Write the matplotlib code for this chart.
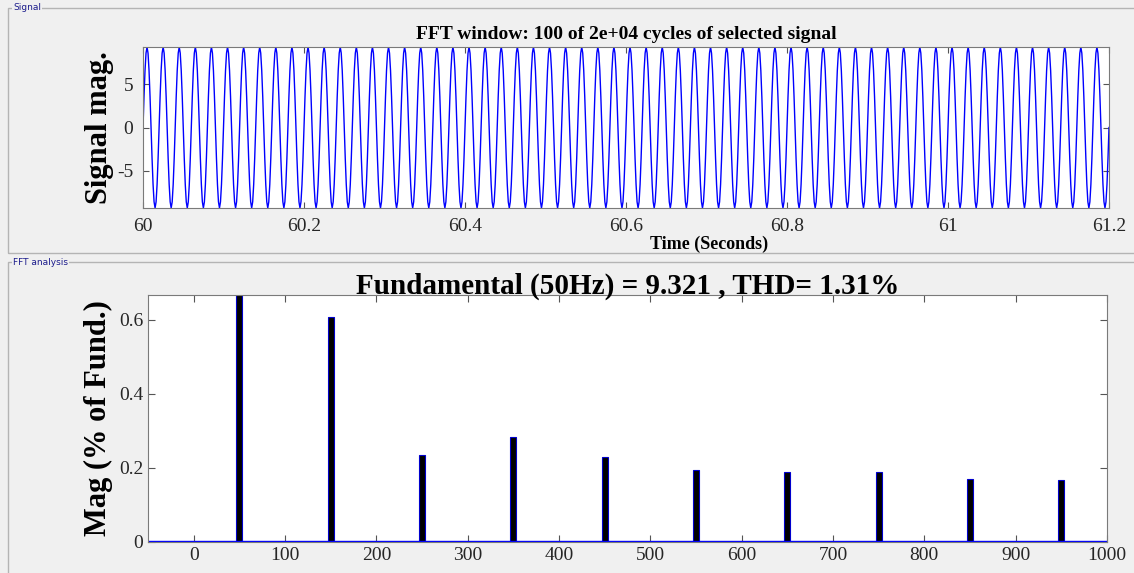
import numpy as np
import matplotlib
matplotlib.use('Agg')
import matplotlib.pyplot as plt
from matplotlib.patches import Rectangle

plt.rcParams['font.family'] = ['Liberation Serif', 'DejaVu Serif']

# signal data (50 Hz fundamental, amplitude from FFT title)
t_start = 60.0
t_end = 61.2
fund_mag = 9.321
# one cycle of samples (fraction of peak), repeated for each cycle in the window
one_cycle = [0.0, 0.383, 0.707, 0.924, 1.0, 0.924, 0.707, 0.383,
             0.0, -0.383, -0.707, -0.924, -1.0, -0.924, -0.707, -0.383]
n_cycles = 60

# FFT harmonics (% of fundamental)
harm_freq = [50, 150, 250, 350, 450, 550, 650, 750, 850, 950]
harm_mag = [100, 0.607, 0.235, 0.283, 0.230, 0.195, 0.188, 0.190, 0.170, 0.168]

sig_xticks = [60, 60.2, 60.4, 60.6, 60.8, 61, 61.2]
sig_xlabels = ['60', '60.2', '60.4', '60.6', '60.8', '61', '61.2']
fft_xticks = [0, 100, 200, 300, 400, 500, 600, 700, 800, 900, 1000]
fft_yticks = [0, 0.2, 0.4, 0.6]

bg = '#f0f0f0'
W, H = 1134, 573
fig = plt.figure(figsize=(W / 100, H / 100), dpi=100, facecolor=bg)

def fx(px):
    return px / W

def fy(py):
    return 1 - py / H

# group boxes
for (x0, y0, x1, y1, lab) in [(8, 8, 1140, 253, 'Signal'), (8, 262, 1140, 580, 'FFT analysis')]:
    fig.patches.append(Rectangle((fx(x0), fy(y1)), fx(x1 - x0), fy(y0) - fy(y1),
                                 transform=fig.transFigure, fill=False,
                                 edgecolor='#b4b4b4', lw=1.0))
    fig.text(fx(13), fy(y0), lab, fontsize=6.5, color='#1c1c8c', family='DejaVu Sans',
             va='center', ha='left', bbox=dict(fc=bg, ec='none', pad=1))

# top signal axes
ax1 = fig.add_axes([fx(143), fy(208), fx(1109 - 143), fy(47) - fy(208)])
samples = np.tile(one_cycle, n_cycles)
samples = np.append(samples, 0.0) * fund_mag
t = np.linspace(t_start, t_end, len(samples))
ax1.plot(t, samples, color='#0000ff', lw=1.0)
ax1.set_xlim(t_start, t_end)
ax1.set_ylim(-fund_mag, fund_mag)
ax1.set_yticks([-5, 0, 5])
ax1.set_yticklabels(['-5', '0', '5'])
ax1.set_xticks(sig_xticks)
ax1.set_xticklabels(sig_xlabels)
ax1.tick_params(labelsize=14, direction='in', length=4, color='#555555',
                top=True, right=True, labelcolor='#262626', pad=7)
ax1.set_title('FFT window: 100 of 2e+04 cycles of selected signal', fontsize=14,
              fontweight='bold', pad=6)
ax1.set_ylabel('Signal mag.', fontsize=22, fontweight='bold', labelpad=2)
ax1.set_xlabel('Time (Seconds)', fontsize=13, fontweight='bold', labelpad=-1)
ax1.xaxis.set_label_coords(0.586, -0.17)
ax1.xaxis.label.set_va('top')
for s in ax1.spines.values():
    s.set_color('#7a7a7a')

# bottom FFT axes
ax2 = fig.add_axes([fx(148), fy(542), fx(1107 - 148), fy(295) - fy(542)])
ax2.bar(harm_freq, harm_mag, width=6.5, color='black', edgecolor='#0000cc', lw=0.8)
ax2.plot([-50, 1000], [0.002, 0.002], color='#0000ff', lw=1.0)
ax2.set_xlim(-50, 1000)
ax2.set_ylim(0, 0.667)
ax2.set_xticks(fft_xticks)
ax2.set_yticks(fft_yticks)
ax2.set_yticklabels(['0', '0.2', '0.4', '0.6'])
ax2.tick_params(labelsize=14, direction='in', length=5, color='#555555',
                top=True, right=True, labelcolor='#262626')
ax2.set_title('Fundamental (50Hz) = 9.321 , THD= 1.31%', fontsize=21,
              fontweight='bold', pad=1)
ax2.set_ylabel('Mag (% of Fund.)', fontsize=22, fontweight='bold', labelpad=4)
for s in ax2.spines.values():
    s.set_color('#7a7a7a')

fig.savefig('out.png', dpi=100, facecolor=bg)
